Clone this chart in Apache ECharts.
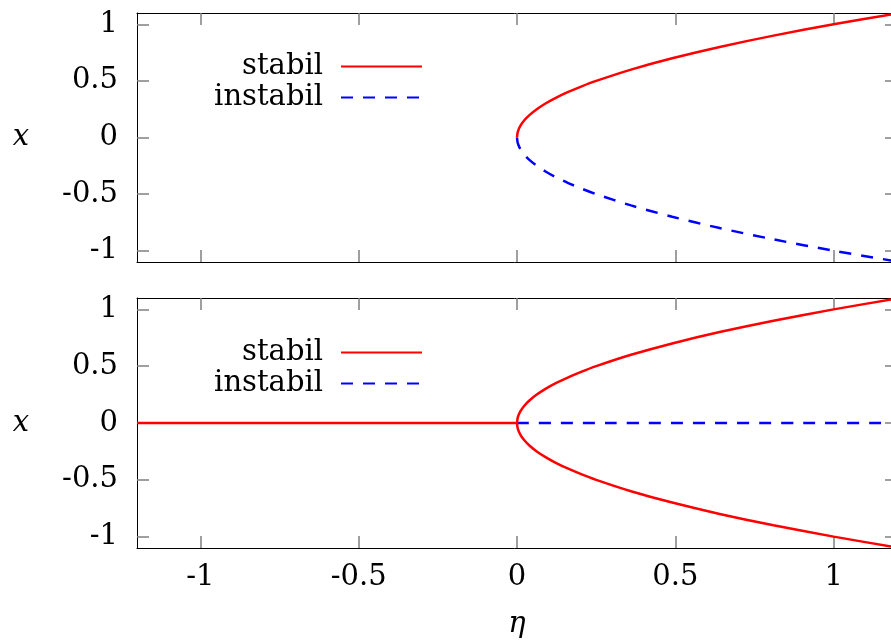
<!DOCTYPE html>
<html>
<head>
<meta charset="utf-8">
<script src="https://cdn.jsdelivr.net/npm/echarts@6/dist/echarts.min.js"></script>
<style>
  html, body { margin: 0; padding: 0; background: #fff; }
  #main { width: 891px; height: 641px; }
</style>
</head>
<body>
<div id="main"></div>
<script>
// Werte
const etaTicks = [-1, -0.5, 0, 0.5, 1];
const xTicks = [-1, -0.5, 0, 0.5, 1];

// Äste der Parabel (eta, x)
const branchEta = [0, 0.0025, 0.01, 0.0225, 0.04, 0.0625, 0.09, 0.1225, 0.16, 0.2025, 0.25, 0.36, 0.49, 0.64, 0.81, 1.0, 1.21];
const upperX = [0, 0.05, 0.1, 0.15, 0.2, 0.25, 0.3, 0.35, 0.4, 0.45, 0.5, 0.6, 0.7, 0.8, 0.9, 1.0, 1.1];
const lowerX = [0, -0.05, -0.1, -0.15, -0.2, -0.25, -0.3, -0.35, -0.4, -0.45, -0.5, -0.6, -0.7, -0.8, -0.9, -1.0, -1.1];

// Nulllinie unten
const zeroStableEta = [-1.2, 0];
const zeroStableX = [0, 0];
const zeroUnstableEta = [0, 1.2];
const zeroUnstableX = [0, 0];

const RED = '#ff0000';
const BLUE = '#0000ff';
const FONT = 'DejaVu Serif';

function pairs(xs, ys) {
    return xs.map((v, i) => [v, ys[i]]);
}

function xAx(grid, pos, labels) {
    return {
        type: 'value', gridIndex: grid, position: pos,
        min: -1.2, max: 1.2,
        axisLine: { show: true, onZero: false, lineStyle: { color: '#000', width: 1 } },
        axisTick: { show: true, inside: true, length: 12, customValues: etaTicks, lineStyle: { color: '#808080', width: 1.5 } },
        axisLabel: { show: labels, customValues: etaTicks, margin: 15, color: '#000', fontFamily: FONT, fontSize: 29 },
        splitLine: { show: false }
    };
}

function yAx(grid, pos, labels) {
    return {
        type: 'value', gridIndex: grid, position: pos,
        min: -1.1, max: 1.1,
        axisLine: { show: true, onZero: false, lineStyle: { color: '#000', width: 1 } },
        axisTick: { show: true, inside: true, length: 12, customValues: xTicks, lineStyle: { color: '#808080', width: 1.5 } },
        axisLabel: { show: labels, customValues: xTicks, margin: 19, color: '#000', fontFamily: FONT, fontSize: 29 },
        splitLine: { show: false }
    };
}

function line(name, data, color, dashed, xi, yi) {
    return {
        name: name, type: 'line', data: data,
        xAxisIndex: xi, yAxisIndex: yi,
        symbol: 'none', smooth: 0.3,
        z: dashed ? 2 : 3,
        lineStyle: { color: color, width: 2.5, type: dashed ? [12, 10] : 'solid' },
        itemStyle: { color: color }
    };
}

function legendAt(top) {
    return {
        orient: 'vertical', right: 468, top: top, padding: 0,
        align: 'right', itemWidth: 81, itemHeight: 12, itemGap: 2,
        selectedMode: false,
        itemStyle: { opacity: 0 },
        data: ['stabil', 'instabil'],
        textStyle: { fontFamily: FONT, fontSize: 29, lineHeight: 29, color: '#000', padding: [0, 13, 0, 0] }
    };
}

const chart = echarts.init(document.getElementById('main'));

function nameX(ax) {
    ax.name = 'x';
    ax.nameLocation = 'middle';
    ax.nameRotate = 0;
    ax.nameGap = 108;
    ax.nameTextStyle = { fontFamily: FONT, fontStyle: 'italic', fontSize: 29, color: '#000' };
    return ax;
}

const xBot = xAx(1, 'bottom', true);
xBot.name = 'η';
xBot.nameLocation = 'middle';
xBot.nameGap = 62;
xBot.nameTextStyle = { fontFamily: FONT, fontStyle: 'italic', fontSize: 29, color: '#000' };

const option = {
    animation: false,
    backgroundColor: '#fff',
    grid: [
        { left: 137, width: 760, top: 13, height: 249, outerBoundsMode: 'none', containLabel: false },
        { left: 137, width: 760, top: 298, height: 250, outerBoundsMode: 'none', containLabel: false }
    ],
    legend: [legendAt(52), legendAt(338)],
    xAxis: [
        xAx(0, 'bottom', false),
        xAx(0, 'top', false),
        xBot,
        xAx(1, 'top', false)
    ],
    yAxis: [
        nameX(yAx(0, 'left', true)),
        yAx(0, 'right', false),
        nameX(yAx(1, 'left', true)),
        yAx(1, 'right', false)
    ],
    series: [
        line('stabil', pairs(branchEta, upperX), RED, false, 0, 0),
        line('instabil', pairs(branchEta, lowerX), BLUE, true, 0, 0),
        line('stabil', pairs(zeroStableEta, zeroStableX), RED, false, 2, 2),
        line('instabil', pairs(zeroUnstableEta, zeroUnstableX), BLUE, true, 2, 2),
        line('stabil', pairs(branchEta, upperX), RED, false, 2, 2),
        line('stabil', pairs(branchEta, lowerX), RED, false, 2, 2)
    ]
};

chart.setOption(option);
</script>
</body>
</html>
